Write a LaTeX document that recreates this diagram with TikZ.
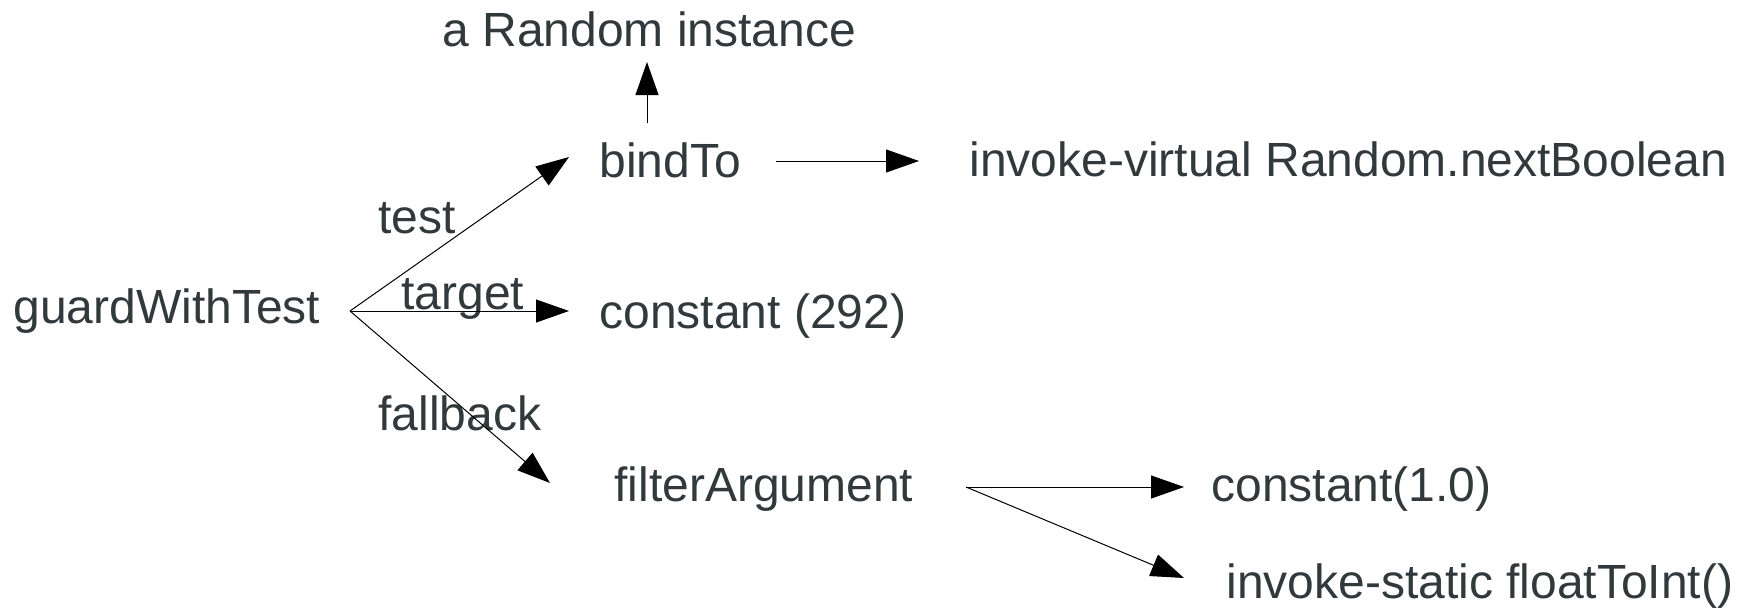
\documentclass[tikz,border=0pt]{standalone}
\usepackage{fontspec}
\setmainfont{Liberation Sans}
\usetikzlibrary{arrows.meta}
\definecolor{txt}{RGB}{50,57,60}
\begin{document}
\begin{tikzpicture}[x=0.5pt,y=-0.5pt,
  lbl/.style={inner sep=0pt, anchor=base west, text=txt, font=\fontsize{24pt}{28pt}\selectfont},
  arr/.style={draw=black, line width=0.5pt, -{Triangle[length=16.5pt,width=11.5pt]}}]
\useasboundingbox (0,0) rectangle (1747,611);
% nodes
\node[lbl] (rnd) at (442,46) {a Random instance};
\node[lbl] (bind) at (599,177) {bindTo};
\node[lbl] (inv) at (969,176) {invoke-virtual Random.nextBoolean};
\node[lbl] (gwt) at (13,323) {guardWithTest};
\node[lbl] (c292) at (599,328) {constant (292)};
\node[lbl] (filt) at (614,501) {filterArgument};
\node[lbl] (c10) at (1211,501) {constant(1.0)};
\node[lbl] (fti) at (1226,598) {invoke-static floatToInt()};
% edge labels
\node[lbl] (ltest) at (378,233) {test};
\node[lbl] (ltarget) at (401,309) {target};
\node[lbl] (lfall) at (378,430) {fallback};
% connector points
\coordinate (gsplit) at (350,311);
\coordinate (bindin) at (569,157);
\coordinate (c292in) at (569,311);
\coordinate (filtin) at (550,483);
\coordinate (bindup) at (647,123);
\coordinate (rndin) at (647,62);
\coordinate (bindout) at (776,161);
\coordinate (invin) at (919,161);
\coordinate (filtout) at (966,487);
\coordinate (c10in) at (1184,487);
\coordinate (ftiin) at (1184,578);
% connectors
\draw[arr] (gsplit) -- (bindin);
\draw[arr] (gsplit) -- (c292in);
\draw[arr] (gsplit) -- (filtin);
\draw[arr] (bindup) -- (rndin);
\draw[arr] (bindout) -- (invin);
\draw[arr] (filtout) -- (c10in);
\draw[arr] (filtout) -- (ftiin);
\end{tikzpicture}
\end{document}
